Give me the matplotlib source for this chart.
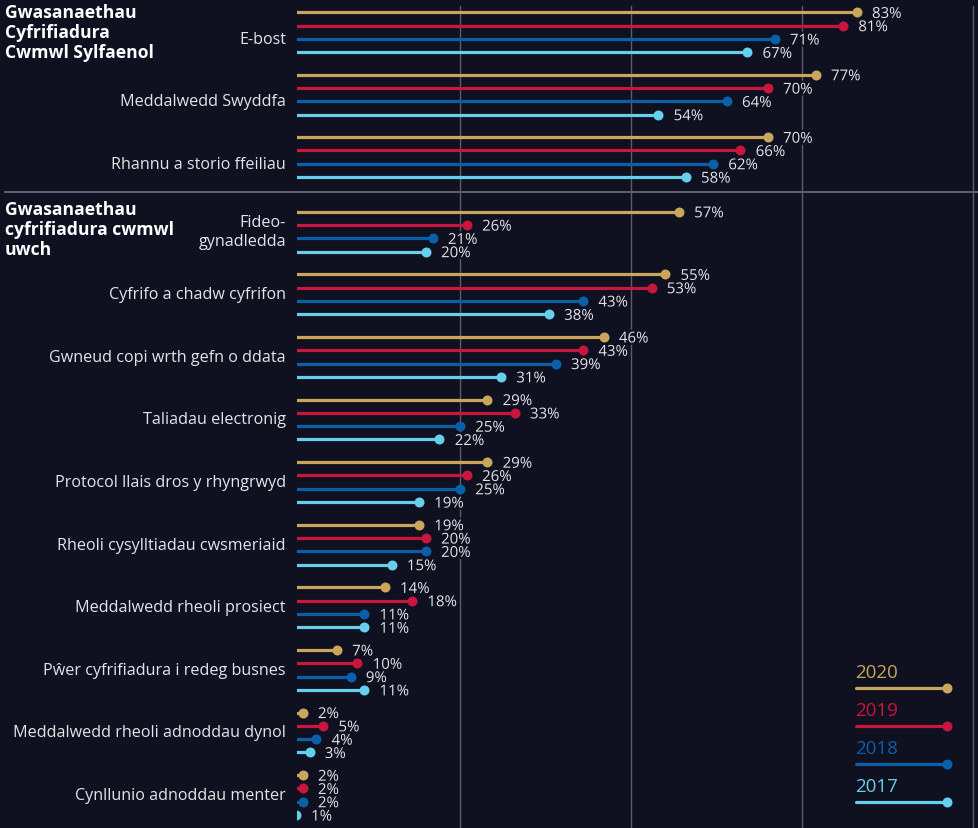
import matplotlib
matplotlib.use("Agg")
import matplotlib.pyplot as plt
import matplotlib.patheffects as pe

# ---------------- data ----------------
years = ["2020", "2019", "2018", "2017"]
group1_title = "Gwasanaethau\nCyfrifiadura\nCwmwl Sylfaenol"
group2_title = "Gwasanaethau\ncyfrifiadura cwmwl\nuwch"
group1_cats = ["E-bost", "Meddalwedd Swyddfa", "Rhannu a storio ffeiliau"]
group2_cats = ["Fideo-\ngynadledda", "Cyfrifo a chadw cyfrifon",
               "Gwneud copi wrth gefn o ddata", "Taliadau electronig",
               "Protocol llais dros y rhyngrwyd", "Rheoli cysylltiadau cwsmeriaid",
               "Meddalwedd rheoli prosiect", "Pŵer cyfrifiadura i redeg busnes",
               "Meddalwedd rheoli adnoddau dynol", "Cynllunio adnoddau menter"]
v2020 = [83, 77, 70, 57, 55, 46, 29, 29, 19, 14, 7, 2, 2]
v2019 = [81, 70, 66, 26, 53, 43, 33, 26, 20, 18, 10, 5, 2]
v2018 = [71, 64, 62, 21, 43, 39, 25, 25, 20, 11, 9, 4, 2]
v2017 = [67, 54, 58, 20, 38, 31, 22, 19, 15, 11, 11, 3, 1]
grid_ticks = [25, 50, 75, 100]

# ---------------- style ----------------
BG = "#0f1020"
COLORS = ["#c9a65b", "#c8163e", "#0b5ea8", "#64d0ec"]
TXT = "#e4e4e8"
FONT = ["Open Sans", "DejaVu Sans"]
plt.rcParams["font.family"] = FONT

W, H = 979, 829
fig = plt.figure(figsize=(W / 100, H / 100), dpi=100, facecolor=BG)

ov = fig.add_axes([0, 0, 1, 1])
ov.set_xlim(0, W)
ov.set_ylim(H, 0)
ov.axis("off")
ov.set_facecolor(BG)

left_px = 297
ax = fig.add_axes([left_px / W, 0, (W - left_px) / W, 1])
ax.patch.set_alpha(0)
ax.axis("off")
ax.set_ylim(H, 0)
x0_px, scale = 289.0, 6.84  # pixel position of 0 and px per percent
ax.set_xlim((left_px - x0_px) / scale, (W - x0_px) / scale)

for t in grid_ticks:
    ax.axvline(t, ymin=0, ymax=1 - 7 / H, color="#5c5c6a", lw=1.0, zorder=0)

# layout of rows (pixels)
series_pitch = 13.3
rows = []
for i, c in enumerate(group1_cats):
    rows.append((c, 13.3 + i * 62.4, 2 * series_pitch))
for i, c in enumerate(group2_cats):
    rows.append((c, 212.7 + i * 62.6, 1.5 * series_pitch))

series = [v2020, v2019, v2018, v2017]
halo = [pe.withStroke(linewidth=3, foreground=BG)]
for ci, (cat, ytop, lab_off) in enumerate(rows):
    for si, vals in enumerate(series):
        y = ytop + si * series_pitch
        v = vals[ci]
        ax.plot([0, v], [y, y], color=COLORS[si], lw=2.3, solid_capstyle="butt", zorder=2)
        ax.plot([v], [y], "o", color=COLORS[si], ms=7.2, mec="none", zorder=3)
        ax.annotate(f"{v}%", (v, y), xytext=(11, -1.5), textcoords="offset points",
                    ha="left", va="center", color=TXT, fontsize=10.8,
                    annotation_clip=False, path_effects=halo, zorder=4)
    ov.text(286, ytop + lab_off, cat, ha="right", va="center", color=TXT,
            fontsize=11.6, linespacing=1.2)

# group headings
ov.text(5, 4, group1_title, ha="left", va="top", color="white", fontsize=12.6,
        fontweight="bold", linespacing=1.15)
ov.text(5, 201, group2_title, ha="left", va="top", color="white", fontsize=12.6,
        fontweight="bold", linespacing=1.15)
ov.plot([5, W], [193, 193], color="#707080", lw=1.2)

# legend
leg_text_y = [673, 711, 749, 787]
for si, yr in enumerate(years):
    ty = leg_text_y[si]
    ly = ty + 15.5
    ov.text(855, ty, yr, ha="left", va="center", color=COLORS[si], fontsize=13.5)
    ov.plot([856, 947], [ly, ly], color=COLORS[si], lw=2.3, solid_capstyle="round")
    ov.plot([947], [ly], "o", color=COLORS[si], ms=7.2, mec="none")

fig.savefig("out.png", dpi=100, facecolor=BG)
